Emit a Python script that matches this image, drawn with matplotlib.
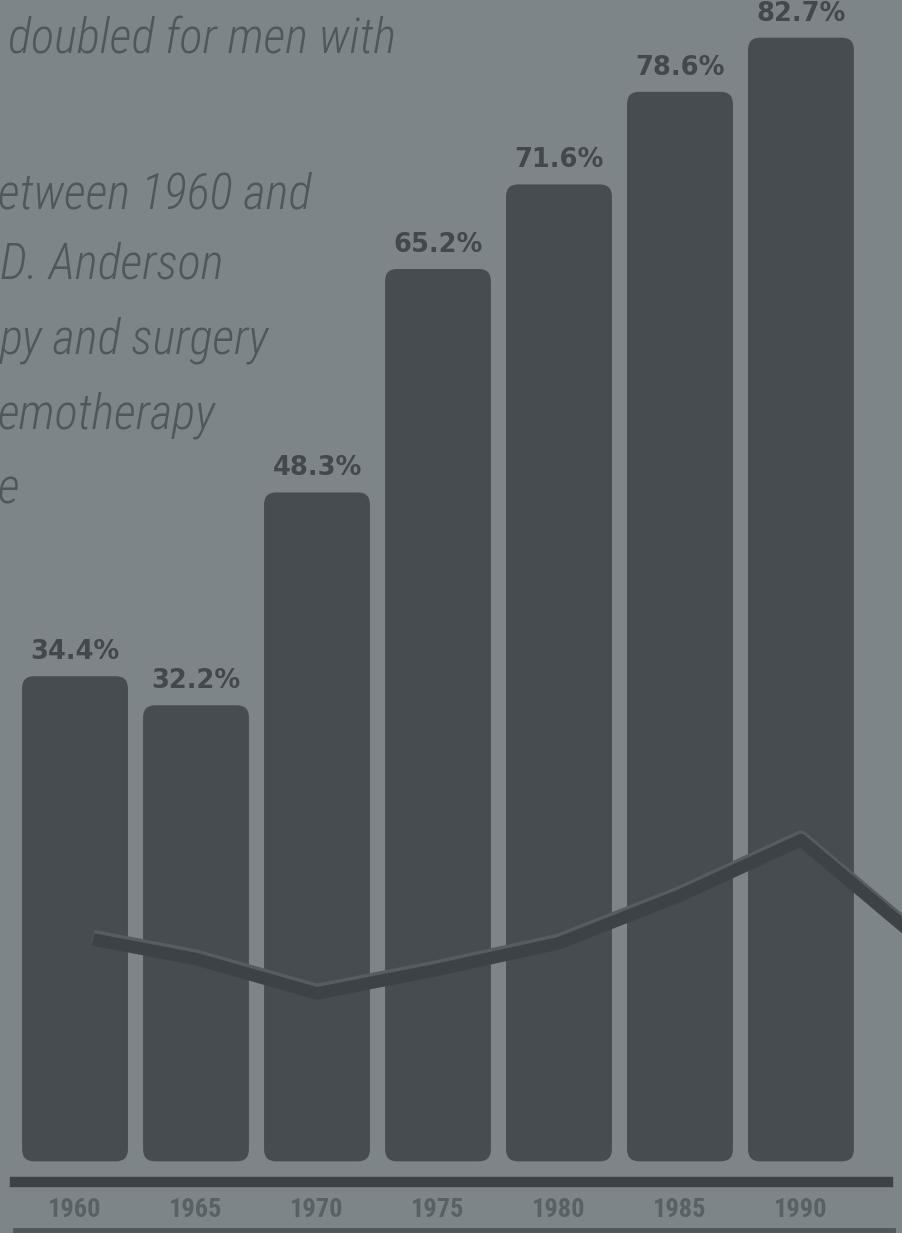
import matplotlib.pyplot as plt
import matplotlib.patheffects as pe
from matplotlib.patches import FancyBboxPatch
from matplotlib import font_manager

# Five-year survival, percent
years = [1960, 1965, 1970, 1975, 1980, 1985, 1990]
survival = [34.4, 32.2, 48.3, 65.2, 71.6, 78.6, 82.7]

# Second series running across the bars
trend_years = [1961, 1965, 1970, 1975, 1980, 1985, 1990, 1995]
trend_vals = [14.4, 13.0, 10.4, 12.2, 14.2, 17.8, 22.0, 14.3]

caption = ["doubled for men with", "", "etween 1960 and", "D. Anderson",
           "py and surgery", "emotherapy", "e"]

BG = "#7e8588"
BAR = "#464c50"
INK = "#3c4246"

# narrow face for the text if one is installed
names = {f.name for f in font_manager.fontManager.ttflist}
narrow = next((n for n in ["Roboto Condensed", "Liberation Sans Narrow",
                           "Liberation Sans"] if n in names), "DejaVu Sans")

fig = plt.figure(figsize=(9.02, 12.33), dpi=100, facecolor=BG)
ax = fig.add_axes([0, 0, 1, 1])
ax.set_facecolor(BG)
ax.axis("off")
ax.set_xlim(-0.62, 6.835)
ax.set_ylim(-7.72, 85.55)

xs = [(y - years[0]) / 5 for y in years]
bottom = -2.3
bars = ax.bar(xs, [v - bottom for v in survival], bottom=bottom, width=0.875,
              color=BAR, alpha=0)

# rounded bars: same geometry as the (hidden) bar rectangles
aspect = (121 / 13.22)
for r in bars:
    ax.add_patch(FancyBboxPatch((r.get_x(), r.get_y()), r.get_width(), r.get_height(),
                                boxstyle="round,pad=0,rounding_size=0.1",
                                mutation_aspect=aspect, fc=BAR, ec="none", zorder=2))

ax.bar_label(bars, labels=[f"{v:.1f}%" for v in survival], padding=8,
             fontsize=18.5, fontweight="bold", color="#42484c", zorder=3)

tx = [(y - years[0]) / 5 for y in trend_years]
ax.plot(tx, trend_vals, color=INK, lw=9, solid_joinstyle="round", zorder=4,
        path_effects=[pe.SimpleLineShadow(offset=(0, 2.5), shadow_color="#565d61", alpha=1),
                      pe.Normal()])

# base rules and year labels
ax.axhline(-3.86, xmin=0.017, xmax=0.984, color=INK, lw=7.5, zorder=3)
ax.axhline(-7.5, xmin=0.017, xmax=0.99, color="#50575b", lw=3.5, zorder=3)
for x, y in zip(xs, years):
    ax.text(x, -5.95, str(y), ha="center", va="center", fontsize=19,
            family=narrow, fontweight="bold", color="#5a6165", zorder=3)

# caption text along the upper left, running off the left edge
line_y = [40, 118, 195, 265, 340, 415, 490]
line_x = [8, 0, -2, 0, 0, -2, -2]
for t, px, py in zip(caption, line_x, line_y):
    fig.text(px / 902, 1 - py / 1233, t, ha="left", va="center", fontsize=35,
             family=narrow, style="italic", fontweight="light", color="#50575b")

fig.savefig("out.png", dpi=100, facecolor=BG)
